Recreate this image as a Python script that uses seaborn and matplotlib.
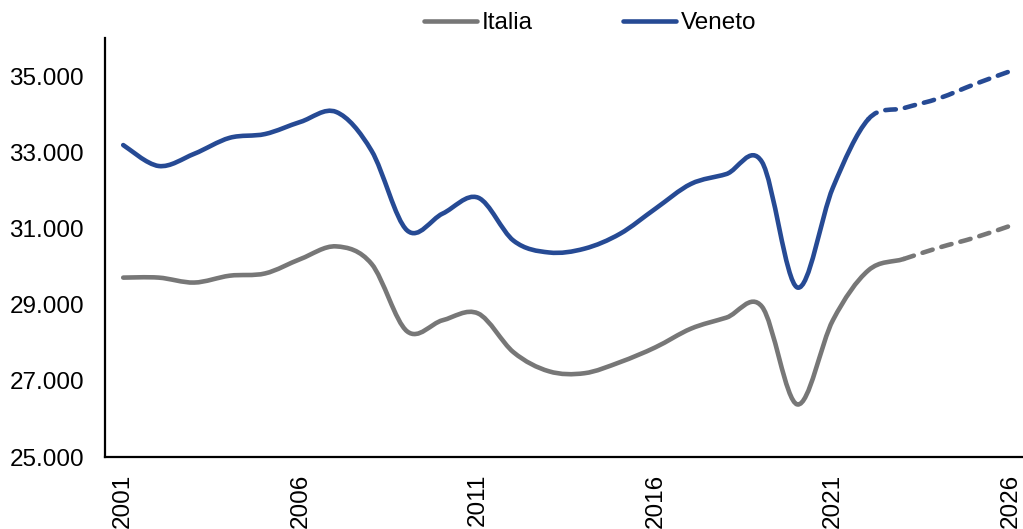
import numpy as np
import pandas as pd
import matplotlib
matplotlib.use("Agg")
import matplotlib.pyplot as plt
import seaborn as sns
from matplotlib.path import Path
from matplotlib.patches import PathPatch
from matplotlib.lines import Line2D
from matplotlib.ticker import FuncFormatter

# data (values per year)
years = list(range(2001, 2027))
italia = [29710, 29710, 29580, 29760, 29820, 30200, 30530, 30070, 28300, 28590,
          28770, 27750, 27250, 27200, 27490, 27880, 28370, 28660, 28950, 26380,
          28590, 29900, 30200, 30500, 30760, 31070]
veneto = [33190, 32640, 32960, 33380, 33480, 33800, 34060, 33040, 30950, 31390,
          31810, 30680, 30370, 30470, 30860, 31520, 32170, 32430, 32750, 29450,
          32070, 33870, 34160, 34420, 34790, 35130]
# first year of the dashed (forecast) part
forecast_start = {"Italia": 2023, "Veneto": 2022}

colors = {"Italia": "#777777", "Veneto": "#264a94"}

df = pd.DataFrame({"anno": years, "Italia": italia, "Veneto": veneto})

sns.set_theme(style="white")
plt.rcParams["font.family"] = ["Liberation Sans", "DejaVu Sans"]
plt.rcParams["text.color"] = "black"
plt.rcParams["xtick.color"] = "black"
plt.rcParams["ytick.color"] = "black"
FS = 17.5


def bezier_segments(x, y):
    # smoothed line like the spreadsheet one: cubic bezier pieces through every point
    n = len(x)
    segs = []
    for i in range(n - 1):
        xa, ya = (x[i - 1], y[i - 1]) if i > 0 else (x[i], y[i])
        xd, yd = (x[i + 2], y[i + 2]) if i + 2 < n else (x[i + 1], y[i + 1])
        c1 = (x[i] + (x[i + 1] - xa) / 6.0, y[i] + (y[i + 1] - ya) / 6.0)
        c2 = (x[i + 1] - (xd - x[i]) / 6.0, y[i + 1] - (yd - y[i]) / 6.0)
        segs.append(((x[i], y[i]), c1, c2, (x[i + 1], y[i + 1])))
    return segs


def make_path(segs):
    verts = [segs[0][0]]
    codes = [Path.MOVETO]
    for s in segs:
        verts += [s[1], s[2], s[3]]
        codes += [Path.CURVE4] * 3
    return Path(verts, codes)


fig = plt.figure(figsize=(10.23, 5.29), dpi=100)
ax = fig.add_axes([0.1031, 0.1361, 0.9018, 0.792])

LW = 3.3
for name in ["Italia", "Veneto"]:
    x = df["anno"].tolist()
    y = df[name].tolist()
    segs = bezier_segments(x, y)
    k = x.index(forecast_start[name])
    ax.add_patch(PathPatch(make_path(segs[:k]), facecolor="none",
                           edgecolor=colors[name], lw=LW, capstyle="round",
                           joinstyle="round"))
    ax.add_patch(PathPatch(make_path(segs[k:]), facecolor="none",
                           edgecolor=colors[name], lw=LW, capstyle="round",
                           joinstyle="round", linestyle=(0, (2.3, 2.0))))

ax.set_xlim(2000.5, 2026.5)
ax.set_ylim(25000, 36000)
ax.set_xticks(list(range(2001, 2027, 5)))
ax.set_xticklabels([str(v) for v in range(2001, 2027, 5)], rotation=90,
                   fontsize=FS, va="top", ha="center", color="black")
ax.set_yticks(list(range(25000, 35001, 2000)))
ax.yaxis.set_major_formatter(FuncFormatter(lambda v, p: f"{v:,.0f}".replace(",", ".")))
ax.tick_params(axis="y", length=0, pad=15.5, labelsize=FS, labelcolor="black")
ax.tick_params(axis="x", length=0, pad=12, labelsize=FS, labelcolor="black")
ax.set_xlabel("")
ax.set_ylabel("")

sns.despine(ax=ax, top=True, right=True)
for sp in ["left", "bottom"]:
    ax.spines[sp].set_color("black")
    ax.spines[sp].set_linewidth(1.6)
ax.grid(False)

handles = [Line2D([0], [0], color=colors[n], lw=LW, solid_capstyle="round")
           for n in ["Italia", "Veneto"]]
fig.legend(handles, ["Italia", "Veneto"], loc="center", ncol=2,
           bbox_to_anchor=(0.577, 0.956), frameon=False, fontsize=FS,
           handlelength=2.2, handletextpad=0.2, columnspacing=3.7,
           labelcolor="black")

fig.savefig("out.png", dpi=100)
